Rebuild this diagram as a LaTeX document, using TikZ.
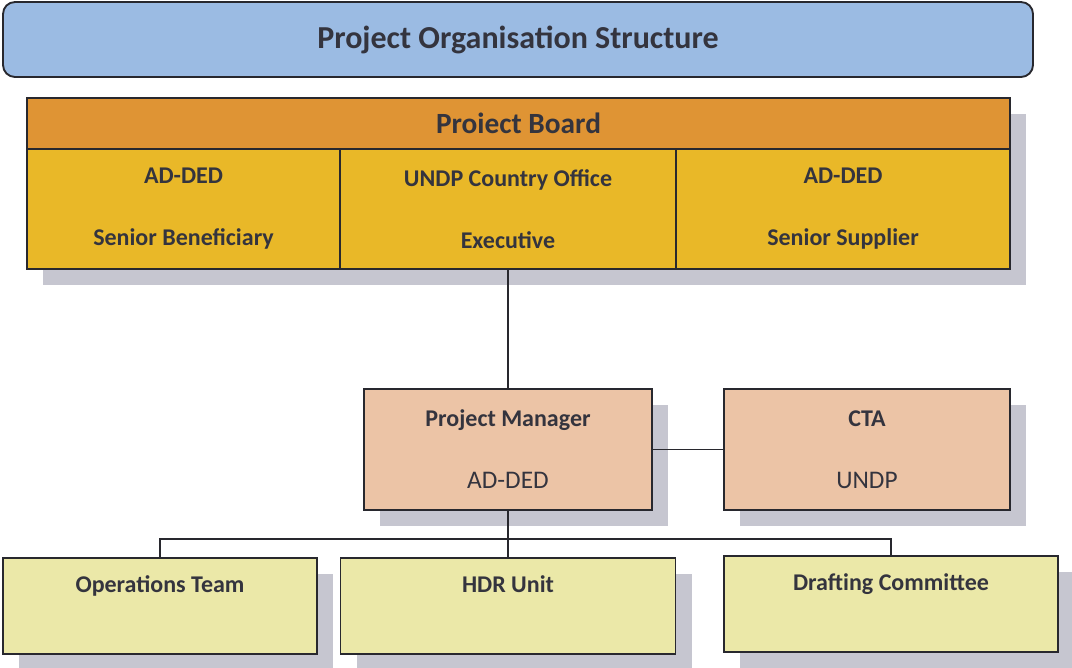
\documentclass[tikz,border=0pt]{standalone}
\usepackage{fontspec}
\setmainfont{Carlito}
\usetikzlibrary{shadows}
\definecolor{titleblue}{RGB}{155,187,227}
\definecolor{boardorange}{RGB}{223,148,52}
\definecolor{cellgold}{RGB}{233,184,40}
\definecolor{peach}{RGB}{236,196,166}
\definecolor{paleyellow}{RGB}{235,232,168}
\definecolor{shade}{RGB}{198,198,208}
\definecolor{boxline}{RGB}{40,40,46}
\definecolor{txt}{RGB}{52,52,62}

\begin{document}
\begin{tikzpicture}[x=0.75pt, y=-0.75pt]
 \tikzstyle{box}=[draw=boxline, line width=1.4pt, text=txt, align=center, inner sep=0pt,
   drop shadow={shadow xshift=12pt, shadow yshift=-12pt, fill=shade, opacity=1}]
 \tikzstyle{titlebox}=[draw=boxline, line width=1.4pt, text=txt, fill=titleblue, rounded corners=9pt,
   minimum width=772.5pt, minimum height=56.25pt, font=\fontsize{24}{28}\selectfont\bfseries]
 \tikzstyle{boardcell}=[box, fill=cellgold, minimum height=90pt, font=\fontsize{18}{46.5}\selectfont\bfseries]
 \tikzstyle{midbox}=[box, fill=peach, minimum width=216pt, minimum height=91pt, font=\fontsize{19}{46.5}\selectfont]
 \tikzstyle{leaf}=[box, fill=paleyellow, text height=26pt, text depth=46pt, font=\fontsize{18}{21}\selectfont\bfseries]
 \tikzstyle{link}=[draw=boxline, line width=1.4pt]
 \useasboundingbox (0,0) rectangle (1072,668);
 %
 \node[titlebox] (title) at (518, 39.5) {Project Organisation Structure};
 %
 \node[box, fill=boardorange, minimum width=737.25pt, minimum height=38.25pt,
   font=\fontsize{22}{26}\selectfont\bfseries] (board) at (518.5, 123.5) {Proiect Board};
 \node[boardcell, minimum width=234.75pt] (benef) at (183.5, 209) {AD-DED\\Senior Beneficiary};
 \node[boardcell, minimum width=252pt] (exec) at (508, 209) {UNDP Country Office\\Executive};
 \node[boardcell, minimum width=250.5pt] (suppl) at (843, 209) {AD-DED\\Senior Supplier};
 %
 \node[midbox] (pm) at (508, 449.5) {{\fontsize{18}{46.5}\selectfont\bfseries Project Manager}\\AD-DED};
 \node[midbox, minimum width=214.5pt] (cta) at (867, 449.5) {{\fontsize{18}{46.5}\selectfont\bfseries CTA}\\UNDP};
 %
 \node[leaf, minimum width=235.5pt] (ops) at (160, 606) {Operations Team};
 \node[leaf, minimum width=251.25pt] (hdr) at (508, 606) {HDR Unit};
 \node[leaf, minimum width=250.5pt] (draft) at (891, 604) {Drafting Committee};
 \coordinate (split) at (508, 539);
 %%
 \draw[link] (exec.south)--(pm.north);
 \draw[link] (pm.east)--(cta.west);
 \draw[link] (pm.south)--(hdr.north);
 \draw[link] (ops.north) |- (split) -| (draft.north);
\end{tikzpicture}
\end{document}
